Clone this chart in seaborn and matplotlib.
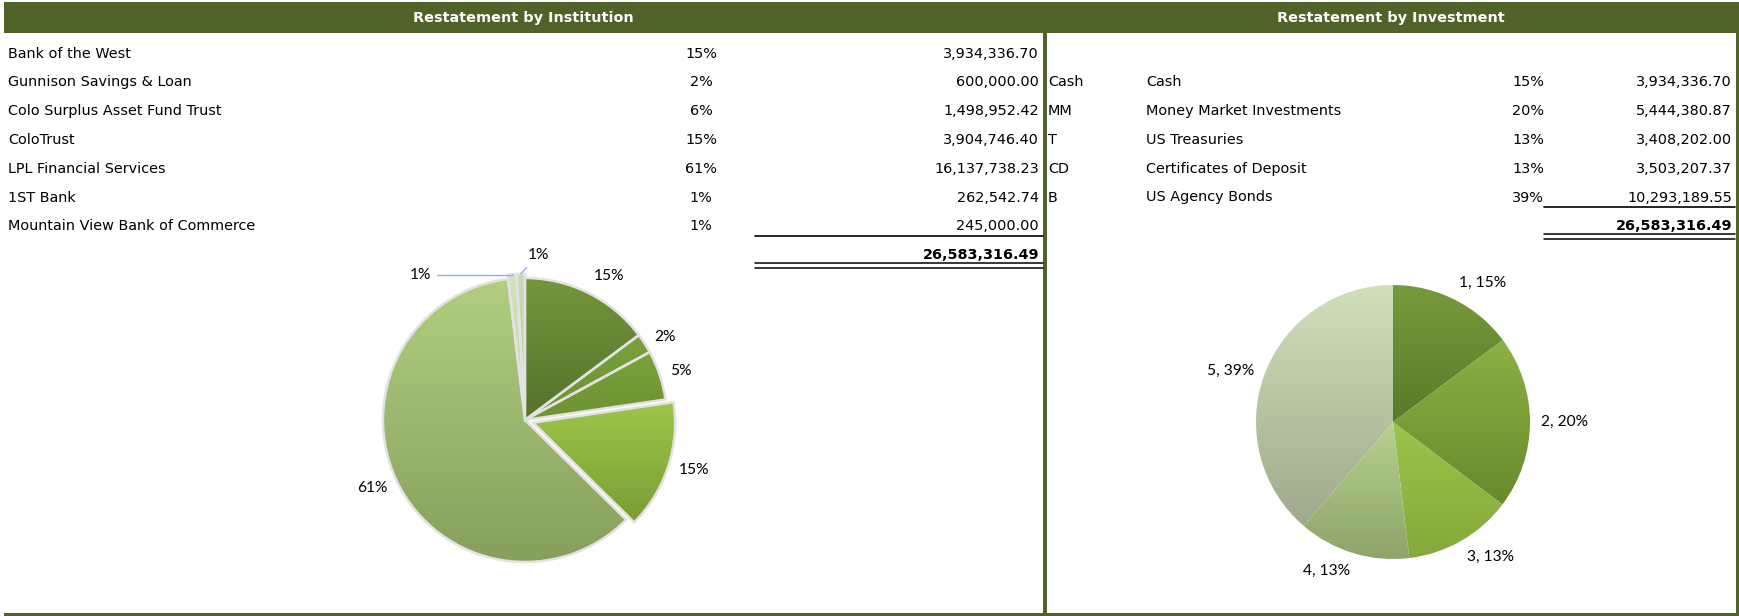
import numpy as np
import matplotlib
matplotlib.use("Agg")
import matplotlib.pyplot as plt
from matplotlib.patches import Rectangle
import seaborn as sns

# restatement by institution
institutions = ["Bank of the West", "Gunnison Savings & Loan", "Colo Surplus Asset Fund Trust",
                "ColoTrust", "LPL Financial Services", "1ST Bank", "Mountain View Bank of Commerce"]
inst_pct = ["15%", "2%", "6%", "15%", "61%", "1%", "1%"]
inst_amounts = [3934336.70, 600000.00, 1498952.42, 3904746.40, 16137738.23, 262542.74, 245000.00]
inst_pie_labels = ["15%", "2%", "5%", "15%", "61%", "1%", "1%"]

# restatement by investment
inv_codes = ["Cash", "MM", "T", "CD", "B"]
investments = ["Cash", "Money Market Investments", "US Treasuries",
               "Certificates of Deposit", "US Agency Bonds"]
inv_pct = ["15%", "20%", "13%", "13%", "39%"]
inv_amounts = [3934336.70, 5444380.87, 3408202.00, 3503207.37, 10293189.55]
inv_pie_labels = ["1, 15%", "2, 20%", "3, 13%", "4, 13%", "5, 39%"]

total_amount = 26583316.49

# slice shading (top colour, bottom colour)
inst_shades = [("#74963b", "#55722a"), ("#7aa13c", "#6c9232"), ("#7ca23c", "#6c9232"),
               ("#9ec74c", "#7a9c33"), ("#b2cf80", "#86a05c"), ("#d2e2bc", "#c2d4a8"),
               ("#c9dab2", "#b8cc9c")]
inv_shades = [("#779b3b", "#59792a"), ("#8cb144", "#68892d"), ("#9dc44b", "#84a83b"),
              ("#b7d18e", "#8ea46a"), ("#d1e0b9", "#9eaa8c")]

olive = "#4f6228"
W, H = 1739, 616

sns.set_theme(style="white")
plt.rcParams["font.family"] = ["DejaVu Sans"]
plt.rcParams["text.color"] = "black"

fig = plt.figure(figsize=(W / 100, H / 100), dpi=100)
base = fig.add_axes([0, 0, 1, 1])
base.set_xlim(0, W)
base.set_ylim(H, 0)
base.axis("off")

fs = 10.4
pie_fs = 11.2

# frame: header band, divider, borders
base.add_patch(Rectangle((4, 2), W - 4, 31, color=olive, lw=0))
base.add_patch(Rectangle((1043, 33), 3.5, H - 33, color=olive, lw=0))
base.add_patch(Rectangle((1735.5, 2), 3.5, H - 2, color=olive, lw=0))
base.add_patch(Rectangle((4, 613), W - 4, 3, color=olive, lw=0))
base.text(523, 18, "Restatement by Institution", color="white", fontsize=fs,
          fontweight="bold", ha="center", va="center")
base.text(1391, 18, "Restatement by Investment", color="white", fontsize=fs,
          fontweight="bold", ha="center", va="center")

y0, step = 53.5, 28.8

# left table
for i, (name, pct, amt) in enumerate(zip(institutions, inst_pct, inst_amounts)):
    y = y0 + i * step
    base.text(8, y, name, fontsize=fs, ha="left", va="center")
    base.text(701, y, pct, fontsize=fs, ha="center", va="center")
    base.text(1039, y, f"{amt:,.2f}", fontsize=fs, ha="right", va="center")
y_tot = y0 + len(institutions) * step
base.plot([755, 1043], [y_tot - 19, y_tot - 19], color="black", lw=1.2)
base.text(1039, y_tot, f"{total_amount:,.2f}", fontsize=fs, fontweight="bold",
          ha="right", va="center")
base.plot([755, 1043], [y_tot + 8, y_tot + 8], color="black", lw=1.1)
base.plot([755, 1043], [y_tot + 12.5, y_tot + 12.5], color="black", lw=1.1)

# right table
for i, (code, name, pct, amt) in enumerate(zip(inv_codes, investments, inv_pct, inv_amounts)):
    y = y0 + (i + 1) * step
    base.text(1048, y, code, fontsize=fs, ha="left", va="center")
    base.text(1146, y, name, fontsize=fs, ha="left", va="center")
    base.text(1528, y, pct, fontsize=fs, ha="center", va="center")
    base.text(1732, y, f"{amt:,.2f}", fontsize=fs, ha="right", va="center")
y_tot2 = y0 + (len(investments) + 1) * step
base.plot([1544, 1735], [y_tot2 - 19, y_tot2 - 19], color="black", lw=1.2)
base.text(1732, y_tot2, f"{total_amount:,.2f}", fontsize=fs, fontweight="bold",
          ha="right", va="center")
base.plot([1544, 1735], [y_tot2 + 8, y_tot2 + 8], color="black", lw=1.1)
base.plot([1544, 1735], [y_tot2 + 12.5, y_tot2 + 12.5], color="black", lw=1.1)


def pie_axes(cx, cy, r, span=1.4):
    size = 2 * span * r
    ax = fig.add_axes([(cx - size / 2) / W, (H - cy - size / 2) / H, size / W, size / H])
    ax.set_xlim(-span, span)
    ax.set_ylim(-span, span)
    ax.set_aspect("equal")
    ax.axis("off")
    return ax


def draw_pie(ax, amounts, labels, shades, explode, edgecolor, lw, leader=()):
    wedges, _ = ax.pie(amounts, startangle=90, counterclock=False, explode=explode,
                       colors=[s[0] for s in shades],
                       wedgeprops=dict(edgecolor=edgecolor, linewidth=lw))
    grad = np.linspace(0, 1, 256)[:, None]
    for w, (top, bottom) in zip(wedges, shades):
        bb = w.get_path().get_extents()
        cmap = sns.blend_palette([top, bottom], as_cmap=True)
        im = ax.imshow(grad, extent=(bb.x0, bb.x1, bb.y0, bb.y1), origin="upper",
                       cmap=cmap, aspect="auto", zorder=1)
        im.set_clip_path(w)
        w.set_facecolor("none")
        w.set_zorder(2)
    for i, (w, lab) in enumerate(zip(wedges, labels)):
        ang = np.deg2rad((w.theta1 + w.theta2) / 2)
        dx, dy = np.cos(ang), np.sin(ang)
        cx, cy = w.center
        if i in leader:
            pos, ha = leader[i]
            ax.annotate(lab, xy=(cx + dx, cy + dy), xytext=pos, ha=ha, va="center",
                        fontsize=pie_fs, family="Lato", color="black",
                        arrowprops=dict(arrowstyle="-", color="#8eb4e3", lw=1,
                                        shrinkA=2, shrinkB=0,
                                        connectionstyle="angle,angleA=0,angleB=90,rad=0"
                                        if ha == "right" else "arc3"))
            continue
        ha = "left" if dx > 0 else "right"
        va = "bottom" if dy > 0.6 else ("top" if dy < -0.6 else "center")
        ax.text(cx + 1.08 * dx, cy + 1.08 * dy, lab, ha=ha, va=va, fontsize=pie_fs,
                family="Lato", color="black")
    ax.set_xlim(-1.4, 1.4)
    ax.set_ylim(-1.4, 1.4)


ax1 = pie_axes(525, 420, 142)
draw_pie(ax1, inst_amounts, inst_pie_labels, inst_shades,
         explode=[0, 0, 0, 0.06, 0, 0.03, 0.03], edgecolor="#e2e2e2", lw=1.8,
         leader={5: ((-0.66, 1.02), "right"), 6: ((0.02, 1.16), "left")})

ax2 = pie_axes(1393, 422, 137)
draw_pie(ax2, inv_amounts, inv_pie_labels, inv_shades,
         explode=None, edgecolor="none", lw=0)

fig.savefig("out.png", dpi=100)
